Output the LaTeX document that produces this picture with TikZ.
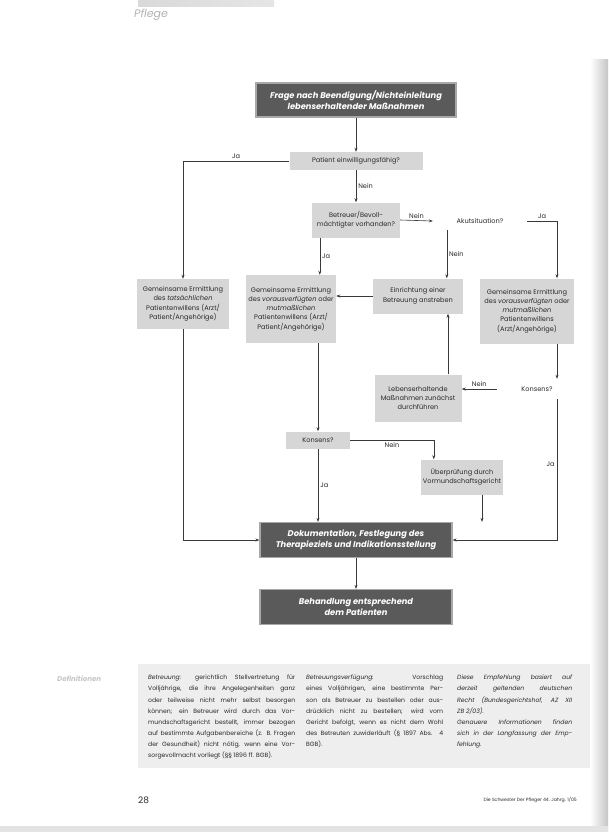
\documentclass[tikz,border=0pt]{standalone}
\usepackage{fontspec}
\setmainfont{Poppins}
\usetikzlibrary{arrows.meta}
\definecolor{lbox}{HTML}{D6D6D6}
\definecolor{dboxc}{HTML}{5A5A5A}
\definecolor{dedge}{HTML}{A8A8A8}
\definecolor{ln}{HTML}{3A3A3A}
\definecolor{txt}{HTML}{2A2A2A}
\definecolor{panel}{HTML}{EEEEEE}
\newcommand\jline[2]{\makebox[#1][s]{#2}}
\begin{document}
\begin{tikzpicture}[x=1pt,y=-1pt,
  box/.style={font=\fontsize{6.6}{9.3}\selectfont, align=center, inner sep=1pt, text=txt},
  lightbox/.style={box, fill=lbox},
  plainbox/.style={box},
  darkbox/.style={fill=dboxc, draw=dedge, line width=1.2pt, text=white,
    font=\fontsize{8.3}{10.5}\selectfont\bfseries\itshape, align=center,
    minimum width=192pt, minimum height=35pt, inner sep=1pt},
  arr/.style={draw=ln, line width=0.6pt, -{Stealth[length=4pt,width=3pt]}},
  lab/.style={font=\fontsize{6.6}{8}\selectfont, text=txt, inner sep=2pt},
  body/.style={font=\fontsize{6.1}{11.1}\selectfont, text=txt, align=left, inner sep=0pt, anchor=north west}
]
\useasboundingbox (0,0) rectangle (608,832);
\fill[white] (0,0) rectangle (608,832);
% page decorations
\shade[left color=white, right color=gray!45] (590,60) rectangle (608,832);
\fill[gray!22] (0,826) rectangle (608,832);
\shade[left color=gray!30, right color=gray!20] (138,1) rectangle (274,7);
\node[font=\fontsize{11}{12}\selectfont\itshape, text=gray!60, anchor=base west, inner sep=0pt] (hdr) at (134,18) {Pflege};

% flowchart nodes
\node[darkbox, minimum width=200pt, minimum height=34pt] (top) at (356,100)
  {Frage nach Beendigung/Nichteinleitung\\lebenserhaltender Maßnahmen};
\node[lightbox, minimum width=133pt, minimum height=18pt] (pat) at (356,161) {Patient einwilligungsfähig?};
\node[lightbox, minimum width=88pt, minimum height=35pt] (bet) at (356,220) {Betreuer/Bevoll-\\mächtigter vorhanden?};
\node[plainbox, minimum width=94pt, minimum height=18pt] (akut) at (480,221) {Akutsituation?};
\node[lightbox, minimum width=92pt, minimum height=50pt] (left) at (183,304)
  {Gemeinsame Ermittlung\\des \textit{tatsächlichen}\\Patientenwillens (Arzt/\\Patient/Angehörige)};
\node[lightbox, minimum width=90pt, minimum height=68pt] (mid) at (291,309)
  {Gemeinsame Ermittlung\\des \textit{vorausverfügten} oder\\\textit{mutmaßlichen}\\Patientenwillens (Arzt/\\Patient/Angehörige)};
\node[lightbox, minimum width=90pt, minimum height=35pt] (ein) at (418,296) {Einrichtung einer\\Betreuung anstreben};
\node[lightbox, minimum width=94pt, minimum height=65pt] (right) at (527,311)
  {Gemeinsame Ermittlung\\des \textit{vorausverfügten} oder\\\textit{mutmaßlichen}\\Patientenwillens\\(Arzt/Angehörige)};
\node[plainbox, minimum width=80pt, minimum height=20pt] (kon1) at (537,389) {Konsens?};
\node[lightbox, minimum width=87pt, minimum height=47pt] (leb) at (418,398) {Lebenserhaltende\\Maßnahmen zunächst\\durchführen};
\node[lightbox, minimum width=64pt, minimum height=17pt] (kon2) at (318,440) {Konsens?};
\node[lightbox, minimum width=82pt, minimum height=35pt] (ueb) at (462,477) {Überprüfung durch\\Vormundschaftsgericht};
\node[darkbox] (dok) at (356,540) {Dokumentation, Festlegung des\\Therapieziels und Indikationsstellung};
\node[darkbox] (beh) at (356,607) {Behandlung entsprechend\\dem Patienten};

% connectors
\draw[arr] (top.south) -- (pat.north);
\draw[arr] (pat.west) -| (left.north) node[lab, pos=0.25, above] {Ja};
\draw[arr] (pat.south) -- (bet.north) node[lab, midway, right] {Nein};
\draw[arr] (bet.east) -- (akut.west) node[lab, midway, above] {Nein};
\draw[arr] (akut.east) -| ([xshift=30pt]right.north) node[lab, pos=0.25, above] {Ja};
\draw[arr] ([xshift=14pt]akut.south west) -- ([xshift=14pt]akut.south west |- ein.north) node[lab, midway, right] {Nein};
\draw[arr] ([xshift=8pt]bet.south west) -- ([xshift=8pt]bet.south west |- mid.north) node[lab, midway, right] {Ja};
\draw[arr] (ein.west) -- (ein.west -| mid.east);
\draw[arr] ([xshift=30pt]right.south) -- ([xshift=30pt]right.south |- kon1.north);
\draw[arr] (kon1.west) -- (kon1.west -| leb.east) node[lab, midway, above] {Nein};
\draw[arr] ([xshift=30pt]leb.north) -- ([xshift=30pt]ein.south);
\draw[arr] ([xshift=30pt]right.south |- kon1.south) |- (dok.east) node[lab, pos=0.23, left] {Ja};
\draw[arr] (kon2.north |- mid.south) -- (kon2.north);
\draw[arr] (kon2.east) -| ([xshift=13pt]ueb.north west) node[lab, pos=0.25, below] {Nein};
\draw[arr] (kon2.south) -- (kon2.south |- dok.north) node[lab, midway, right] {Ja};
\draw[arr] ([xshift=20pt]ueb.south) -- ([xshift=20pt]ueb.south |- dok.north);
\draw[arr] (left.south) |- (dok.west);
\draw[arr] (dok.south) -- (beh.north);

% definitions panel
\fill[panel] (138,664) rectangle (590,768);
\node[font=\fontsize{7}{8}\selectfont\bfseries\itshape, text=gray!45, anchor=base west, inner sep=0pt] (defh) at (57,681) {Definitionen};
\node[body] (c1) at (148,675) {%
\jline{147pt}{\textit{Betreuung:} gerichtlich Stellvertretung für}\\
\jline{147pt}{Volljährige, die ihre Angelegenheiten ganz}\\
\jline{147pt}{oder teilweise nicht mehr selbst besorgen}\\
\jline{147pt}{können; ein Betreuer wird durch das Vor-}\\
\jline{147pt}{mundschaftsgericht bestellt, immer bezogen}\\
\jline{147pt}{auf bestimmte Aufgabenbereiche (z. B. Fragen}\\
\jline{147pt}{der Gesundheit) nicht nötig, wenn eine Vor-}\\
sorgevollmacht vorliegt (§§ 1896 ff. BGB).};
\node[body] (c2) at (306,675) {%
\jline{137pt}{\textit{Betreuungsverfügung:} Vorschlag}\\
\jline{137pt}{eines Volljährigen, eine bestimmte Per-}\\
\jline{137pt}{son als Betreuer zu bestellen oder aus-}\\
\jline{137pt}{drücklich nicht zu bestellen; wird vom}\\
\jline{137pt}{Gericht befolgt, wenn es nicht dem Wohl}\\
\jline{137pt}{des Betreuten zuwiderläuft (§ 1897 Abs. 4}\\
BGB).};
\node[body, font=\fontsize{6.1}{11.1}\selectfont\itshape] (c3) at (457,675) {%
\jline{115pt}{Diese Empfehlung basiert auf}\\
\jline{115pt}{derzeit geltenden deutschen}\\
\jline{115pt}{Recht (Bundesgerichtshof, AZ XII}\\
ZB 2/03).\\
\jline{115pt}{Genauere Informationen finden}\\
\jline{115pt}{sich in der Langfassung der Emp-}\\
fehlung.};

% footer
\node[font=\fontsize{9}{10}\selectfont, text=txt, anchor=base west, inner sep=0pt] (pg) at (138,803) {28};
\node[font=\fontsize{4.6}{5}\selectfont, text=txt, anchor=base east, inner sep=0pt] (foot) at (577,801) {Die Schwester Der Pfleger 44. Jahrg. 1/05};
\end{tikzpicture}
\end{document}
